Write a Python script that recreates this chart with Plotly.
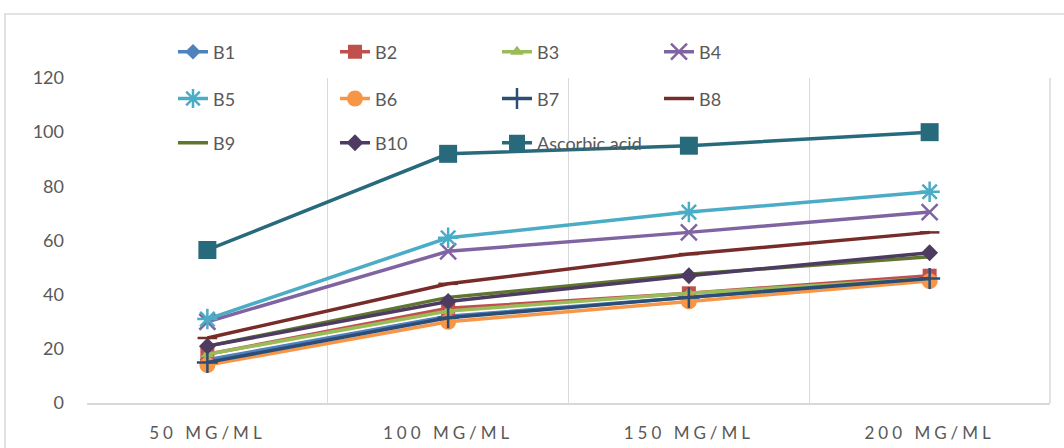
import plotly.graph_objects as go

categories = ["50 MG/ML", "100 MG/ML", "150 MG/ML", "200 MG/ML"]

B1 = [16, 32, 39, 46]
B2 = [18, 35, 40.5, 47]
B3 = [18, 34, 40.5, 46]
B4 = [30, 56, 63, 70.5]
B5 = [31, 61, 70.5, 78]
B6 = [14, 30, 37.5, 45]
B7 = [15, 31.5, 39, 46]
B8 = [24, 44, 55, 63]
B9 = [21, 39, 47.5, 54]
B10 = [21, 37.5, 47, 55.5]
ascorbic_acid = [56.5, 92, 95, 100]

series_names = ["B1", "B2", "B3", "B4", "B5", "B6", "B7", "B8", "B9", "B10", "Ascorbic acid"]
series_values = [B1, B2, B3, B4, B5, B6, B7, B8, B9, B10, ascorbic_acid]
colors = ["#4F81BD", "#C0504D", "#9BBB59", "#8064A2", "#4BACC6", "#F79646",
          "#2C4D75", "#772C2A", "#5F7530", "#4D3B62", "#276A7C"]
symbols = ["diamond", "square", "triangle-up", "x-thin-open", "asterisk-open", "circle",
           "cross-thin-open", "line-ew-open", "line-ew-open", "diamond", "square"]
sizes = [12, 14, 12, 16, 17, 16, 15, 14, 1, 13, 18]
legends = ["legend", "legend", "legend", "legend",
           "legend2", "legend2", "legend2", "legend2",
           "legend3", "legend3", "legend3"]

fig = go.Figure()
for name, vals, c, sym, sz, lg in zip(series_names, series_values, colors, symbols, sizes, legends):
    fig.add_trace(go.Scatter(
        x=categories, y=vals, name=name, mode="lines+markers",
        line=dict(color=c, width=3.5),
        marker=dict(symbol=sym, size=sz, color=c, line=dict(color=c, width=2.5 if "open" in sym else 0)),
        legend=lg,
    ))

font_family = "Lato, 'Open Sans', sans-serif"
leg_common = dict(orientation="h", xanchor="left", yanchor="middle",
                  bgcolor="rgba(0,0,0,0)", entrywidth=117, entrywidthmode="pixels",
                  font=dict(size=18, color="#595959", family=font_family),
                  traceorder="normal")

fig.update_layout(
    width=1064, height=448,
    margin=dict(l=87, r=14, t=78, b=45, autoexpand=False),
    paper_bgcolor="white", plot_bgcolor="white",
    font=dict(family=font_family, color="#595959"),
    showlegend=True,
    legend=dict(x=0.0893, y=1.08, **leg_common),
    legend2=dict(x=0.0893, y=0.936, **leg_common),
    legend3=dict(x=0.0893, y=0.8, **leg_common),
    xaxis=dict(
        type="category", range=[-0.5, 3.5], tickson="boundaries",
        showgrid=True, gridcolor="#D9D9D9", gridwidth=1,
        showline=True, linecolor="#D9D9D9", linewidth=1.5,
        ticks="", tickfont=dict(size=17, color="#595959"),
        ticklabelstandoff=14, zeroline=False,
    ),
    yaxis=dict(
        range=[0, 120], tickvals=[0, 20, 40, 60, 80, 100, 120],
        showgrid=False, zeroline=False, showline=False,
        ticks="", tickfont=dict(size=18, color="#595959"),
        ticklabelstandoff=22,
    ),
    shapes=[
        dict(type="rect", xref="paper", yref="paper",
             x0=-0.0852, x1=1.3, y0=-0.5, y1=1.197,
             line=dict(color="#D9D9D9", width=1.5), layer="below"),
        dict(type="line", xref="paper", yref="paper",
             x0=1, x1=1, y0=0, y1=1,
             line=dict(color="#D9D9D9", width=1.5), layer="below"),
    ],
)

post = """
document.body.style.margin='0';
document.querySelectorAll('.xtick text').forEach(function(t){
  t.style.letterSpacing='4px';
});
"""
fig.write_html("out.html", post_script=post, config={"displayModeBar": False})
